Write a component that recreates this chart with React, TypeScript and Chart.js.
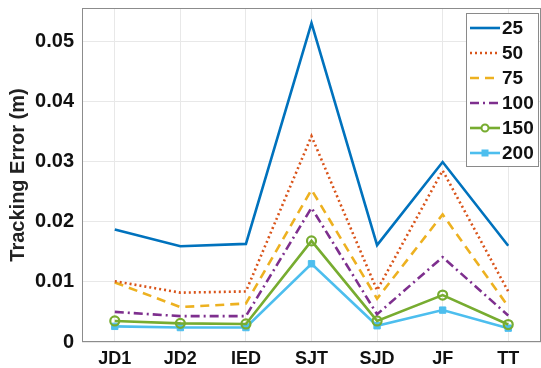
import React, { useEffect, useRef } from 'react';
import { Chart, registerables } from 'chart.js';
Chart.register(...registerables);

const categories = ['JD1', 'JD2', 'IED', 'SJT', 'SJD', 'JF', 'TT'];
const s25 = [0.0187, 0.0159, 0.0163, 0.053, 0.0161, 0.0299, 0.016];
const s50 = [0.0101, 0.0082, 0.0084, 0.0342, 0.0086, 0.0285, 0.0084];
const s75 = [0.0099, 0.0058, 0.0064, 0.0253, 0.0072, 0.0212, 0.0059];
const s100 = [0.005, 0.0043, 0.0043, 0.0223, 0.0046, 0.0141, 0.0044];
const s150 = [0.0035, 0.0031, 0.003, 0.0168, 0.0035, 0.0078, 0.0029];
const s200 = [0.0026, 0.0024, 0.0024, 0.013, 0.0027, 0.0053, 0.0023];
const seriesLabels = ['25', '50', '75', '100', '150', '200'];
const yTicks = [0, 0.01, 0.02, 0.03, 0.04, 0.05];
const yMin = 0;
const yMax = 0.0555;
const yTitle = 'Tracking Error (m)';

const FONT = "'Liberation Sans', Arial, sans-serif";

const legendPlugin = {
  id: 'boxLegend',
  afterDraw(chart: any) {
    const ctx = chart.ctx;
    const x0 = 466, y0 = 13, w = 72, h = 153;
    ctx.save();
    ctx.fillStyle = '#ffffff';
    ctx.fillRect(x0, y0, w, h);
    ctx.strokeStyle = '#8a8a8a';
    ctx.lineWidth = 1;
    ctx.strokeRect(x0 + 0.5, y0 + 0.5, w, h);
    const rows = [28, 53, 78, 103, 128, 153];
    chart.data.datasets.forEach((ds: any, i: number) => {
      const y = rows[i];
      ctx.save();
      ctx.strokeStyle = ds.borderColor;
      ctx.lineWidth = ds.borderWidth;
      ctx.setLineDash(ds.borderDash || []);
      ctx.beginPath();
      ctx.moveTo(470, y);
      ctx.lineTo(500, y);
      ctx.stroke();
      ctx.setLineDash([]);
      if (ds.pointRadius > 0) {
        if (ds.pointStyle === 'circle') {
          ctx.beginPath();
          ctx.arc(485, y, 3.5, 0, Math.PI * 2);
          ctx.fillStyle = '#ffffff';
          ctx.fill();
          ctx.lineWidth = 2;
          ctx.stroke();
        } else {
          ctx.fillStyle = ds.pointBackgroundColor;
          ctx.fillRect(485 - 3.5, y - 3.5, 7, 7);
        }
      }
      ctx.restore();
      ctx.fillStyle = '#111111';
      ctx.font = `bold 19px ${FONT}`;
      ctx.textAlign = 'left';
      ctx.textBaseline = 'middle';
      ctx.fillText(seriesLabels[i], 502, y + 1);
    });
    ctx.restore();
  },
};

const framePlugin = {
  id: 'frame',
  beforeDatasetsDraw(chart: any) {
    const { ctx, chartArea } = chart;
    ctx.save();
    ctx.strokeStyle = '#8c8c8c';
    ctx.lineWidth = 1;
    ctx.strokeRect(chartArea.left + 0.5, chartArea.top + 0.5, chartArea.right - chartArea.left - 1, chartArea.bottom - chartArea.top - 1);
    ctx.restore();
  },
};

export default function App() {
  const ref = useRef<HTMLCanvasElement>(null);
  useEffect(() => {
    if (!ref.current) return;
    const mk = (label: string, data: number[], color: string, extra: any = {}) => ({
      label,
      data,
      borderColor: color,
      backgroundColor: color,
      borderWidth: 2.6,
      pointRadius: 0,
      tension: 0,
      fill: false,
      ...extra,
    });
    const chart = new Chart(ref.current, {
      type: 'line',
      data: {
        labels: categories,
        datasets: [
          mk(seriesLabels[0], s25, '#0072BD'),
          mk(seriesLabels[1], s50, '#D95319', { borderDash: [2, 3] }),
          mk(seriesLabels[2], s75, '#EDB120', { borderDash: [9, 6] }),
          mk(seriesLabels[3], s100, '#7E2F8E', { borderDash: [9, 4, 2, 4] }),
          mk(seriesLabels[4], s150, '#77AC30', {
            pointRadius: 4.5,
            pointStyle: 'circle',
            pointBackgroundColor: 'rgba(255,255,255,0)',
            pointBorderColor: '#77AC30',
            pointBorderWidth: 2.2,
          }),
          mk(seriesLabels[5], s200, '#4DBEEE', {
            pointRadius: 4.5,
            pointStyle: 'rect',
            pointBackgroundColor: '#4DBEEE',
            pointBorderColor: '#4DBEEE',
            pointBorderWidth: 1,
          }),
        ],
      },
      options: {
        responsive: false,
        animation: false,
        devicePixelRatio: 1,
        layout: { autoPadding: false, padding: { top: 8, right: 0, left: 0, bottom: 0 } },
        plugins: { legend: { display: false }, tooltip: { enabled: false } },
        scales: {
          x: {
            type: 'category',
            offset: true,
            grid: { offset: false, color: '#e8e8e8', lineWidth: 1, tickLength: 0, drawTicks: false },
            border: { display: false },
            ticks: {
              color: '#111111',
              font: { family: FONT, size: 18, weight: 'bold' },
              padding: 6,
              maxRotation: 0,
              autoSkip: false,
            },
            afterFit: (s: any) => {
              s.height = 26;
              s.paddingLeft = 0;
              s.paddingRight = 0;
            },
          },
          y: {
            type: 'linear',
            min: yMin,
            max: yMax,
            afterBuildTicks: (s: any) => { s.ticks = yTicks.map((v) => ({ value: v })); },
            grid: { color: '#e8e8e8', lineWidth: 1, tickLength: 0, drawTicks: false },
            border: { display: false },
            ticks: {
              color: '#111111',
              font: { family: FONT, size: 20, weight: 'bold' },
              padding: 8,
              callback: (v: any) => (Number(v) === 0 ? '0' : Number(v).toFixed(2)),
            },
            title: {
              display: true,
              text: yTitle,
              color: '#222222',
              font: { family: FONT, size: 20, weight: 'bold' },
              padding: { top: 6, bottom: 0 },
            },
            afterFit: (s: any) => {
              s.width = 82;
              s.paddingTop = 0;
              s.paddingBottom = 0;
            },
          },
        },
      },
      plugins: [framePlugin, legendPlugin],
    } as any);
    return () => chart.destroy();
  }, []);
  return (
    <div style={{ position: 'absolute', left: 0, top: 0, width: 541, height: 368, background: '#fff' }}>
      <canvas ref={ref} width={541} height={368} style={{ display: 'block' }} />
    </div>
  );
}
